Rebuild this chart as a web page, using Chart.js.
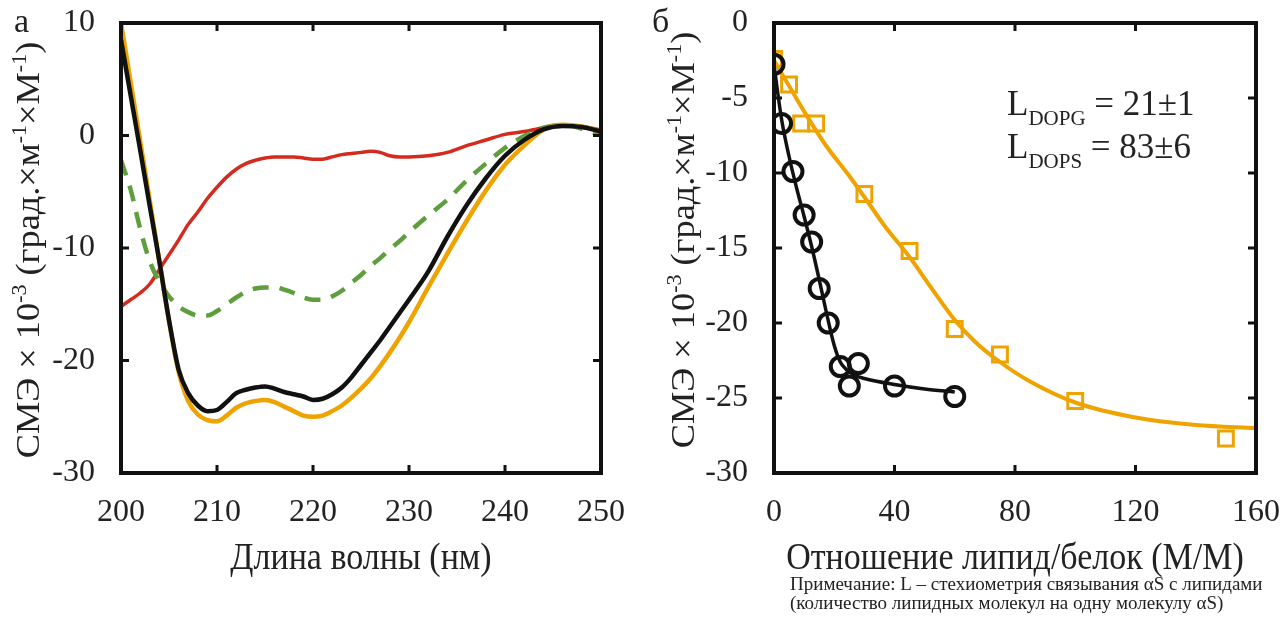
<!DOCTYPE html>
<html>
<head>
<meta charset="utf-8">
<script src="https://cdn.jsdelivr.net/npm/chart.js@4.4.1/dist/chart.umd.min.js"></script>
<style>
  body { margin: 0; background: #fff; width: 1284px; height: 618px; overflow: hidden; position: relative; }
  .panel { position: absolute; top: 0; }
</style>
</head>
<body>
<div class="panel" style="left:0"><canvas id="spectraChart" width="640" height="618"></canvas></div>
<div class="panel" style="left:640px"><canvas id="titrationChart" width="644" height="618"></canvas></div>
<script>
// --- panel a: CD spectra ---
var wavelengths = [200, 201, 202, 203, 204, 205, 206, 207, 208, 209, 210, 211, 212, 213, 214, 215, 216, 217, 218, 219, 220,
  221, 222, 223, 224, 225, 226, 227, 228, 229, 230, 232, 234, 236, 238, 240, 242, 244, 246, 248, 250];
var cdBlack = [8.5, 3.6, -1.3, -6.3, -11.2, -16.4, -20.8, -22.9, -24.0, -24.5, -24.4, -23.7, -22.9, -22.6, -22.4, -22.3, -22.5, -22.8, -23.0, -23.2, -23.5,
  -23.4, -23.0, -22.4, -21.5, -20.4, -19.3, -18.2, -17.0, -15.8, -14.6, -12.1, -9.0, -6.2, -3.8, -1.8, -0.4, 0.55, 0.85, 0.75, 0.35];
var cdYellow = [10, 4.8, -0.5, -5.8, -11.2, -16.5, -21.0, -23.6, -24.8, -25.3, -25.4, -24.9, -24.2, -23.8, -23.6, -23.5, -23.7, -24.1, -24.5, -24.9, -25.0,
  -24.9, -24.5, -24.0, -23.3, -22.5, -21.6, -20.5, -19.3, -18.0, -16.6, -13.5, -10.5, -7.6, -4.9, -2.6, -0.9, 0.5, 0.95, 0.8, 0.35];
var cdRed = [-15.2, -14.6, -14.0, -13.2, -11.9, -10.6, -9.3, -7.9, -6.8, -5.6, -4.6, -3.7, -3.0, -2.5, -2.2, -2.0, -1.9, -1.9, -1.9, -2.0, -2.1,
  -2.1, -1.9, -1.7, -1.6, -1.5, -1.4, -1.5, -1.8, -1.9, -1.9, -1.8, -1.5, -0.9, -0.4, 0.1, 0.35, 0.7, 0.9, 0.8, 0.5];
var cdGreen = [-2.2, -4.8, -8.3, -11.2, -13.0, -14.3, -15.2, -15.7, -16.0, -16.0, -15.6, -15.0, -14.4, -13.9, -13.6, -13.5, -13.5, -13.7, -14.0, -14.4, -14.6,
  -14.6, -14.3, -13.8, -13.1, -12.4, -11.6, -10.9, -10.1, -9.4, -8.6, -7.1, -5.7, -4.0, -2.5, -1.1, -0.05, 0.7, 0.95, 0.6, 0.05];
var waveTicks = [200, 210, 220, 230, 240, 250];
var cdTicks = [-30, -20, -10, 0, 10];

// --- panel б: titration ---
var dopgRatio = [0, 2.5, 6.3, 10, 12.5, 15, 18, 22, 25, 28, 40, 60];
var dopgCd = [-2.75, -6.7, -9.9, -12.8, -14.6, -17.7, -20.0, -22.9, -24.2, -22.7, -24.2, -24.9];
var dopgFitRatio = [0, 2.5, 5, 7.5, 10, 12.5, 15, 17.5, 20, 22, 24, 27, 30, 40, 50, 60];
var dopgFitCd = [-2.8, -6.4, -8.9, -11.0, -12.9, -14.9, -17.1, -19.4, -21.5, -22.6, -23.1, -23.5, -23.7, -24.1, -24.4, -24.6];
var dopsRatio = [0, 5, 9, 14, 30, 45, 60, 75, 100, 150];
var dopsCd = [-2.4, -4.1, -6.7, -6.7, -11.4, -15.2, -20.4, -22.1, -25.2, -27.7];
var dopsFitRatio = [0, 5, 10, 17, 25, 30, 37, 45, 52, 60, 67, 75, 85, 100, 120, 140, 160];
var dopsFitCd = [-2.5, -4.2, -5.9, -8.1, -10.2, -11.6, -13.6, -15.6, -17.6, -19.8, -21.3, -22.6, -23.9, -25.3, -26.3, -26.8, -27.0];
var ratioTicks = [0, 40, 80, 120, 160];
var ratioCdTicks = [-30, -25, -20, -15, -10, -5, 0];

var SERIF = '"Liberation Serif", "Times New Roman", serif';
var ORANGE = "#EEA300";

function pts(xs, ys) {
    return xs.map(function (x, i) { return { x: x, y: ys[i] }; });
}

// text with sub/superscripts: parts = [[text, 0|1|-1], ...]
function richText(ctx, parts, x, y, size, align) {
    var small = Math.round(size * 0.6);
    var widths = parts.map(function (p) {
        ctx.font = (p[1] ? small : size) + "px " + SERIF;
        return ctx.measureText(p[0]).width;
    });
    var total = widths.reduce(function (a, b) { return a + b; }, 0);
    var cx = align === "center" ? x - total / 2 : x;
    ctx.textAlign = "left";
    ctx.textBaseline = "alphabetic";
    parts.forEach(function (p, i) {
        ctx.font = (p[1] ? small : size) + "px " + SERIF;
        var dy = p[1] === 1 ? -size * 0.4 : (p[1] === -1 ? size * 0.28 : 0);
        ctx.fillText(p[0], cx, y + dy);
        cx += widths[i];
    });
}

var yTitle = [["СМЭ × 10", 0], ["-3", 1], [" (град.×м", 0], ["-1", 1], ["×М", 0], ["-1", 1], [")", 0]];

// frame with inward ticks on all four sides
var frameTicks = {
    id: "frameTicks",
    afterDatasetsDraw: function (chart) {
        var a = chart.chartArea, ctx = chart.ctx, len = 8;
        var xs = chart.scales.x, ys = chart.scales.y;
        ctx.save();
        ctx.strokeStyle = "#111";
        ctx.lineWidth = 3;
        ctx.beginPath();
        xs.ticks.forEach(function (t) {
            var px = xs.getPixelForValue(t.value);
            ctx.moveTo(px, a.bottom); ctx.lineTo(px, a.bottom - len);
            ctx.moveTo(px, a.top); ctx.lineTo(px, a.top + len);
        });
        ys.ticks.forEach(function (t) {
            var py = ys.getPixelForValue(t.value);
            ctx.moveTo(a.left, py); ctx.lineTo(a.left + len, py);
            ctx.moveTo(a.right, py); ctx.lineTo(a.right - len, py);
        });
        ctx.stroke();
        ctx.lineWidth = 4;
        ctx.strokeRect(a.left, a.top, a.right - a.left, a.bottom - a.top);
        ctx.restore();
    }
};

var panelText = {
    id: "panelText",
    afterDraw: function (chart, args, o) {
        var ctx = chart.ctx, a = chart.chartArea;
        ctx.save();
        ctx.fillStyle = "#222";
        ctx.font = "34px " + SERIF;
        ctx.textAlign = "left";
        ctx.textBaseline = "alphabetic";
        ctx.fillText(o.letter, o.letterX, 32);
        // x title, slightly stretched vertically like the source figure
        ctx.save();
        ctx.translate((a.left + a.right) / 2, 569);
        ctx.scale(1, 1.1);
        ctx.textAlign = "center";
        ctx.fillText(o.xTitle, 0, 0);
        ctx.restore();
        ctx.save();
        ctx.translate(o.yTitleX, o.yTitleY);
        ctx.rotate(-Math.PI / 2);
        ctx.scale(1.1, 1);
        richText(ctx, yTitle, 0, 0, 33, "center");
        ctx.restore();
        if (o.extra) o.extra(ctx);
        ctx.restore();
    }
};

function scales(xmin, xmax, xTicks, ymin, ymax, yTicks, yWidth) {
    var tickFont = { family: SERIF, size: 32 };
    return {
        x: {
            type: "linear", min: xmin, max: xmax,
            grid: { display: false }, border: { display: false },
            afterBuildTicks: function (s) { s.ticks = xTicks.map(function (v) { return { value: v }; }); },
            ticks: { font: tickFont, color: "#222", padding: 12, maxRotation: 0 },
            afterFit: function (s) { s.height = 145; s.paddingLeft = 0; s.paddingRight = 0; }
        },
        y: {
            type: "linear", min: ymin, max: ymax,
            grid: { display: false }, border: { display: false },
            afterBuildTicks: function (s) { s.ticks = yTicks.map(function (v) { return { value: v }; }); },
            ticks: { font: tickFont, color: "#222", padding: 18 },
            afterFit: function (s) { s.width = yWidth; s.paddingTop = 0; s.paddingBottom = 0; }
        }
    };
}

function line(label, xs, ys, color, width, dash) {
    return {
        label: label, data: pts(xs, ys), borderColor: color, borderWidth: width,
        borderDash: dash || [], pointRadius: 0, showLine: true, fill: false,
        cubicInterpolationMode: "monotone"
    };
}

new Chart(document.getElementById("spectraChart").getContext("2d"), {
    type: "scatter",
    data: {
        datasets: [
            line("black", wavelengths, cdBlack, "#111", 4.5),
            line("yellow", wavelengths, cdYellow, ORANGE, 4.5),
            line("green", wavelengths, cdGreen, "#5E9E3C", 4.5, [16, 11]),
            line("red", wavelengths, cdRed, "#D52B1E", 3.5)
        ]
    },
    options: {
        responsive: false, animation: false,
        layout: { padding: { left: 0, top: 23, right: 39, bottom: 0 } },
        plugins: {
            legend: { display: false }, tooltip: { enabled: false },
            panelText: { letter: "а", letterX: 14, xTitle: "Длина волны (нм)", yTitleX: 39, yTitleY: 250 }
        },
        scales: scales(200, 250, waveTicks, -30, 10, cdTicks, 121)
    },
    plugins: [frameTicks, panelText]
});

new Chart(document.getElementById("titrationChart").getContext("2d"), {
    type: "scatter",
    data: {
        datasets: [
            line("DOPG fit", dopgFitRatio, dopgFitCd, "#111", 3.5),
            {
                label: "DOPG", data: pts(dopgRatio, dopgCd), showLine: false,
                pointStyle: "circle", pointRadius: 9.5, borderWidth: 4,
                borderColor: "#111", backgroundColor: "rgba(0,0,0,0)"
            },
            line("DOPS fit", dopsFitRatio, dopsFitCd, ORANGE, 4),
            {
                label: "DOPS", data: pts(dopsRatio, dopsCd), showLine: false,
                pointStyle: "rect", pointRadius: 10.5, borderWidth: 3,
                borderColor: ORANGE, backgroundColor: "rgba(0,0,0,0)"
            }
        ]
    },
    options: {
        responsive: false, animation: false,
        layout: { padding: { left: 0, top: 23, right: 28, bottom: 0 } },
        plugins: {
            legend: { display: false }, tooltip: { enabled: false },
            panelText: {
                letter: "б", letterX: 12, xTitle: "Отношение липид/белок (М/М)", yTitleX: 54, yTitleY: 240,
                extra: function (ctx) {
                    richText(ctx, [["L", 0], ["DOPG", -1], [" = 21±1", 0]], 367, 115, 35, "left");
                    richText(ctx, [["L", 0], ["DOPS", -1], [" = 83±6", 0]], 367, 158, 35, "left");
                    ctx.font = "19px " + SERIF;
                    ctx.fillText("Примечание: L – стехиометрия связывания αS с липидами", 150, 590);
                    ctx.fillText("(количество липидных молекул на одну молекулу αS)", 150, 609);
                }
            }
        },
        scales: scales(0, 160, ratioTicks, -30, 0, ratioCdTicks, 134)
    },
    plugins: [frameTicks, panelText]
});
</script>
</body>
</html>
